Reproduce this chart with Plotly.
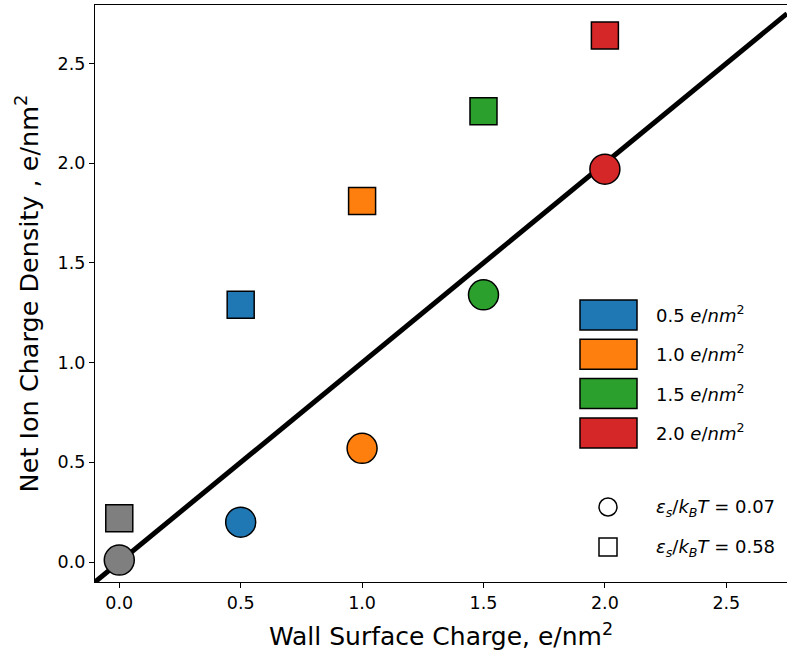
import plotly.graph_objects as go

# Data
wall_charge = [0.0, 0.5, 1.0, 1.5, 2.0]
net_low_eps = [0.01, 0.20, 0.57, 1.34, 1.97]     # circles, eps_s/kBT = 0.07
net_high_eps = [0.22, 1.29, 1.81, 2.26, 2.64]    # squares, eps_s/kBT = 0.58
colors = ["#7f7f7f", "#1f77b4", "#ff7f0e", "#2ca02c", "#d62728"]
legend_labels = ["0.5", "1.0", "1.5", "2.0"]
legend_colors = colors[1:]
eps_labels = ["0.07", "0.58"]
ideal_line = [-0.1, 2.75]
tick_vals = [0, 0.5, 1.0, 1.5, 2.0, 2.5]
tick_text = ["0.0", "0.5", "1.0", "1.5", "2.0", "2.5"]

W, H = 787, 662
L, R, T, B = 95, 0, 5, 80
pw, ph = W - L - R, H - T - B

def px(x):
    return (x - L) / pw

def py(y):
    return (H - B - y) / ph

fig = go.Figure()
fig.add_trace(go.Scatter(x=ideal_line, y=ideal_line, mode="lines",
                         line=dict(color="black", width=5), showlegend=False,
                         hoverinfo="skip"))
fig.add_trace(go.Scatter(x=wall_charge, y=net_high_eps, mode="markers",
                         marker=dict(symbol="square", size=27, color=colors,
                                     line=dict(color="black", width=1.5)),
                         showlegend=False))
fig.add_trace(go.Scatter(x=wall_charge, y=net_low_eps, mode="markers",
                         marker=dict(symbol="circle", size=30, color=colors,
                                     line=dict(color="black", width=1.5)),
                         showlegend=False))

shapes = []
annotations = []
font = dict(family="DejaVu Sans", size=18, color="black")
# color legend patches
for i, (lab, col) in enumerate(zip(legend_labels, legend_colors)):
    y0 = 300 + i * 39.3
    shapes.append(dict(type="rect", xref="paper", yref="paper",
                       x0=px(580), x1=px(637), y0=py(y0 + 30), y1=py(y0),
                       fillcolor=col, line=dict(color="black", width=1.5)))
    annotations.append(dict(xref="paper", yref="paper", x=px(654), y=py(y0 + 14),
                            xanchor="left", yanchor="middle", showarrow=False,
                            text=f"{lab} <i>e</i>/<i>nm</i><sup>2</sup>", font=font))
# marker legend
shapes.append(dict(type="circle", xref="paper", yref="paper",
                   x0=px(599), x1=px(617), y0=py(516), y1=py(498),
                   line=dict(color="black", width=1.5), fillcolor="white"))
shapes.append(dict(type="rect", xref="paper", yref="paper",
                   x0=px(599), x1=px(617), y0=py(556), y1=py(538),
                   line=dict(color="black", width=1.5), fillcolor="white"))
for j, (lab, yc) in enumerate(zip(eps_labels, [508, 548])):
    annotations.append(dict(xref="paper", yref="paper", x=px(654), y=py(yc),
                            xanchor="left", yanchor="middle", showarrow=False,
                            text=f"<i>ε<sub>s</sub></i>/<i>k<sub>B</sub>T</i> = {lab}",
                            font=font))

fig.update_layout(
    width=W, height=H,
    margin=dict(l=L, r=R, t=T, b=B),
    plot_bgcolor="white", paper_bgcolor="white",
    font=dict(family="DejaVu Sans", color="black"),
    shapes=shapes, annotations=annotations,
    xaxis=dict(range=[-0.1, 2.75], tickvals=tick_vals, ticktext=tick_text,
               showgrid=False, zeroline=False, showline=True, linecolor="black",
               linewidth=1.2, mirror=True, ticks="outside", ticklen=5,
               tickcolor="black", tickfont=dict(size=17.5),
               title=dict(text="Wall Surface Charge, e/nm<sup>2</sup>",
                          font=dict(size=25), standoff=15)),
    yaxis=dict(range=[-0.1, 2.793], tickvals=tick_vals, ticktext=tick_text,
               showgrid=False, zeroline=False, showline=True, linecolor="black",
               linewidth=1.2, mirror=False, ticks="outside", ticklen=5,
               tickcolor="black", tickfont=dict(size=17.5),
               title=dict(text="Net Ion Charge Density , e/nm<sup>2</sup>",
                          font=dict(size=25.5), standoff=11)),
)
fig.write_html("out.html")
